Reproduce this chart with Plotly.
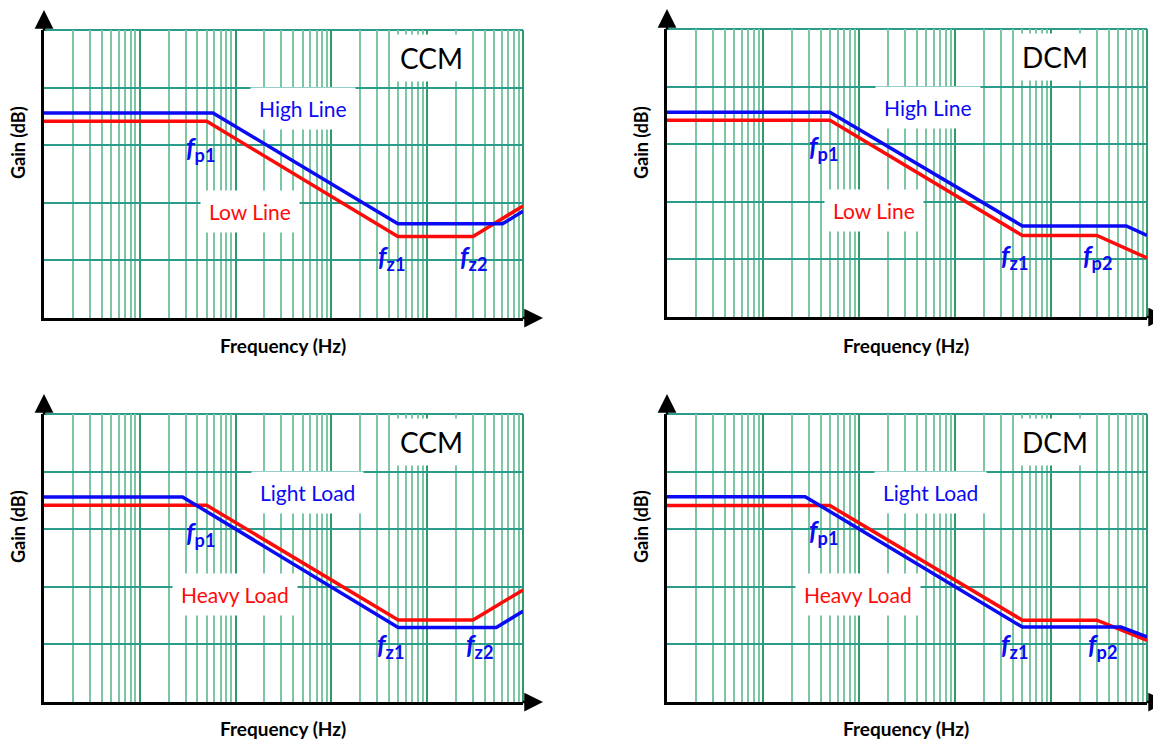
import math
import plotly.graph_objects as go

# ---------------- data (frequency in Hz, gain in dB) ----------------
# Top-left: CCM, High Line vs Low Line
tl_high_f = [1, 58, 4940, 61200, 100000]
tl_high_g = [71.2, 71.2, 32.7, 32.7, 37.1]
tl_low_f = [1, 50, 4940, 30100, 100000]
tl_low_g = [68.3, 68.3, 28.3, 28.3, 38.9]

# Top-right: DCM, High Line vs Low Line
tr_high_f = [1, 49.8, 5035, 60800, 100000]
tr_high_g = [71.1, 71.1, 31.6, 31.6, 28.3]
tr_low_f = [1, 49.8, 5035, 30060, 100000]
tr_low_g = [68.3, 68.3, 28.3, 28.3, 20.5]

# Bottom-left: CCM, Light Load vs Heavy Load
bl_light_f = [1, 27.9, 4980, 52600, 100000]
bl_light_g = [71.2, 71.2, 25.9, 25.9, 31.5]
bl_heavy_f = [1, 49.9, 4980, 30100, 100000]
bl_heavy_g = [68.3, 68.3, 28.5, 28.5, 38.9]

# Bottom-right: DCM, Light Load vs Heavy Load
br_light_f = [1, 27.5, 5035, 53500, 100000]
br_light_g = [71.3, 71.3, 26.0, 26.0, 22.6]
br_heavy_f = [1, 49.8, 5035, 30060, 100000]
br_heavy_g = [68.2, 68.2, 28.4, 28.4, 21.4]

mode_labels = ["CCM", "DCM", "CCM", "DCM"]
blue_labels = ["High Line", "High Line", "Light Load", "Light Load"]
red_labels = ["Low Line", "Low Line", "Heavy Load", "Heavy Load"]
corner_labels = [["p1", "z1", "z2"], ["p1", "z1", "p2"], ["p1", "z1", "z2"], ["p1", "z1", "p2"]]

# label anchor positions (Hz, dB)
mode_pos = [(11220, 90.4), (11100, 90.2), (11220, 90.2), (11100, 90.4)]
blue_pos = [(507, 72.8), (518, 72.6), (569, 72.8), (562, 72.8)]
red_pos = [(140, 37.1), (143, 37.1), (98, 37.5), (98, 37.3)]
corner_pos = [
    [(43.6, 58.8), (4266, 21.1), (30900, 21.1)],
    [(43.0, 58.8), (4266, 21.1), (30550, 21.1)],
    [(43.6, 58.6), (4170, 19.6), (35480, 19.6)],
    [(43.0, 59.1), (4266, 19.7), (34670, 19.7)],
]

blue_series = [(tl_high_f, tl_high_g), (tr_high_f, tr_high_g), (bl_light_f, bl_light_g), (br_light_f, br_light_g)]
red_series = [(tl_low_f, tl_low_g), (tr_low_f, tr_low_g), (bl_heavy_f, bl_heavy_g), (br_heavy_f, br_heavy_g)]

# ---------------- layout constants ----------------
OFF = 8                      # default page body margin
FW, FH = 1161 - OFF, 740 - OFF
BLUE = "#0a0af5"
RED = "#ff0a0a"
FONT = "Lato"


def px_x(p):
    return (p - OFF) / FW


def px_y(p):
    return 1 - (p - OFF) / FH


x_domains = [(px_x(44), px_x(523)), (px_x(667), px_x(1147)), (px_x(44), px_x(523)), (px_x(667), px_x(1147))]
y_domains = [(px_y(318), px_y(30)), (px_y(317), px_y(29)), (px_y(702), px_y(414)), (px_y(702), px_y(414))]
minor_vals = [k * 10 ** d for d in range(0, 5) for k in range(2, 10)]

fig = go.Figure()
annotations = []
shapes = []
layout = dict(width=FW, height=FH, margin=dict(l=0, r=0, t=0, b=0),
              paper_bgcolor="white", plot_bgcolor="white", showlegend=False)

for i in range(4):
    n = "" if i == 0 else str(i + 1)
    xa, ya = "x" + n, "y" + n
    layout["xaxis" + n] = dict(
        type="log", range=[0, 5], domain=list(x_domains[i]), anchor=ya,
        dtick=1, showticklabels=False, ticks="", showgrid=True,
        gridcolor="#2f9a6c", gridwidth=2, zeroline=False,
        showline=True, linecolor="black", linewidth=2.5, layer="above traces",
        minor=dict(tickmode="array", tickvals=minor_vals, showgrid=True,
                   gridcolor="#7cc7a2", gridwidth=1.6, ticks=""),
    )
    layout["yaxis" + n] = dict(
        range=[0, 100], domain=list(y_domains[i]), anchor=xa,
        dtick=20, showticklabels=False, ticks="", showgrid=True,
        gridcolor="#2a9c8c", gridwidth=2, zeroline=False,
        showline=True, linecolor="black", linewidth=2.5, layer="above traces",
    )
    # top and right border grid lines
    shapes.append(dict(type="line", xref=xa + " domain", yref=ya + " domain", x0=0, x1=1, y0=1, y1=1,
                       line=dict(color="#2a9c8c", width=2), layer="below"))
    shapes.append(dict(type="line", xref=xa + " domain", yref=ya + " domain", x0=1, x1=1, y0=0, y1=1,
                       line=dict(color="#2f9a6c", width=2), layer="below"))

    rf, rg = red_series[i]
    bf, bg = blue_series[i]
    fig.add_trace(go.Scatter(x=rf, y=rg, mode="lines", line=dict(color=RED, width=3.5),
                             xaxis=xa, yaxis=ya, hoverinfo="skip"))
    fig.add_trace(go.Scatter(x=bf, y=bg, mode="lines", line=dict(color=BLUE, width=3.5),
                             xaxis=xa, yaxis=ya, hoverinfo="skip"))

    # axis arrows
    annotations.append(dict(xref=xa + " domain", yref=ya + " domain", x=0, y=1 + 20 / 288,
                            ax=0, ay=22, text="", showarrow=True, arrowhead=2,
                            arrowsize=1.5, arrowwidth=2.5, arrowcolor="black"))
    annotations.append(dict(xref=xa + " domain", yref=ya + " domain", x=1 + 20 / 479, y=0,
                            ax=-22, ay=0, text="", showarrow=True, arrowhead=2,
                            arrowsize=1.5, arrowwidth=2.5, arrowcolor="black"))

    # labels
    mx, my = mode_pos[i]
    annotations.append(dict(xref=xa, yref=ya, x=math.log10(mx), y=my, text=mode_labels[i],
                            showarrow=False, font=dict(family=FONT, size=28, color="black"),
                            bgcolor="white", borderpad=6))
    bx, by = blue_pos[i]
    annotations.append(dict(xref=xa, yref=ya, x=math.log10(bx), y=by, text=blue_labels[i],
                            showarrow=False, font=dict(family=FONT, size=21, color=BLUE),
                            bgcolor="white", borderpad=8))
    rx, ry = red_pos[i]
    annotations.append(dict(xref=xa, yref=ya, x=math.log10(rx), y=ry, text=red_labels[i],
                            showarrow=False, font=dict(family=FONT, size=21, color=RED),
                            bgcolor="white", borderpad=8))
    for lab, (cx, cy) in zip(corner_labels[i], corner_pos[i]):
        annotations.append(dict(xref=xa, yref=ya, x=math.log10(cx), y=cy,
                                text="<b><i>f</i></b><sub><b>" + lab + "</b></sub>",
                                showarrow=False, font=dict(family=FONT, size=26, color=BLUE)))

# axis titles
gain_x = [px_x(18), px_x(641)]
freq_x = [px_x(283), px_x(906)]
row_gain_y = [px_y(143), px_y(527)]
row_freq_y = [px_y(345), px_y(728)]
for r in range(2):
    for c in range(2):
        annotations.append(dict(xref="paper", yref="paper", x=gain_x[c], y=row_gain_y[r],
                                xanchor="center", yanchor="middle",
                                text="<b>Gain (dB)</b>", textangle=-90, showarrow=False,
                                font=dict(family=FONT, size=18, color="black")))
        annotations.append(dict(xref="paper", yref="paper", x=freq_x[c], y=row_freq_y[r],
                                xanchor="center", yanchor="middle",
                                text="<b>Frequency (Hz)</b>", showarrow=False,
                                font=dict(family=FONT, size=19, color="black")))

layout["annotations"] = annotations
layout["shapes"] = shapes
fig.update_layout(**layout)
fig.write_html("out.html")
